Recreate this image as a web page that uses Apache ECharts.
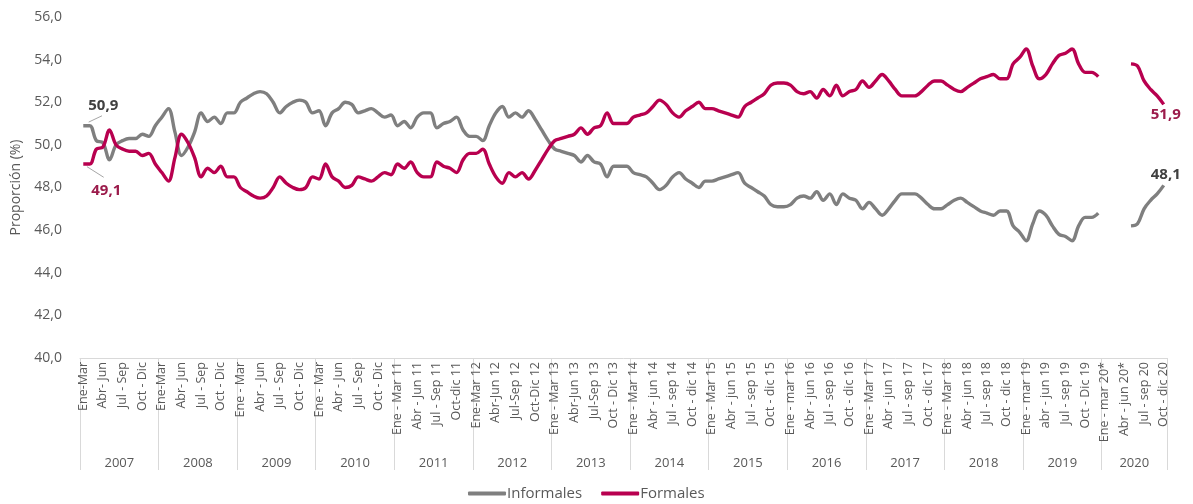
<!DOCTYPE html>
<html><head><meta charset="utf-8">
<script src="https://cdn.jsdelivr.net/npm/echarts@6/dist/echarts.min.js"></script>
<style>html,body{margin:0;padding:0;background:#fff}#chart{width:1193px;height:504px}</style>
</head><body><div id="chart"></div>
<script>
// ---- DATA ----
const years = ['2007','2008','2009','2010','2011','2012','2013','2014','2015','2016','2017','2018','2019','2020'];
const periodsPerYear = [12,12,12,12,12,12,12,12,12,12,12,12,12,10];
const trimestres = ['Ene-Mar','Feb-Abr','Mar-May','Abr-Jun','May-Jul','Jun-Ago','Jul-Sep','Ago-Oct','Sep-Nov','Oct-Dic','Nov-Ene','Dic-Feb'];
const quarterLabels = [
  ['Ene-Mar','Abr- Jun','Jul - Sep','Oct - Dic'],
  ['Ene-Mar','Abr- Jun','Jul - Sep','Oct - Dic'],
  ['Ene - Mar','Abr - Jun','Jul - Sep','Oct - Dic'],
  ['Ene - Mar','Abr - Jun','Jul - Sep','Oct - Dic'],
  ['Ene - Mar 11','Abr - Jun 11','Jul - Sep 11','Oct-dic 11'],
  ['Ene-Mar 12','Abr-Jun 12','Jul-Sep 12','Oct-Dic 12'],
  ['Ene - Mar 13','Abr-Jun 13','Jul-Sep 13','Oct - Dic 13'],
  ['Ene - Mar 14','Abr - jun 14','Jul - sep 14','Oct - dic 14'],
  ['Ene - Mar 15','Abr - jun 15','Jul - sep 15','Oct - dic 15'],
  ['Ene - mar 16','Abr - jun 16','Jul - sep 16','Oct - dic 16'],
  ['Ene - Mar 17','Abr - jun 17','Jul - sep 17','Oct - dic 17'],
  ['Ene - Mar 18','Abr - jun 18','Jul - sep 18','Oct - dic 18'],
  ['Ene - mar 19','abr - jun 19','Jul - sep 19','Oct - Dic 19'],
  ['Ene - mar 20*','Abr - jun 20*','Jul - sep 20','Oct - dic 20']
];
const informales = [
  50.9,50.9,50.2,50.1,49.3,50.0,50.2,50.3,50.3,50.5,50.4,50.9,
  51.3,51.7,50.6,49.5,49.9,50.6,51.5,51.1,51.3,51.0,51.5,51.5,
  52.0,52.2,52.4,52.5,52.4,52.0,51.5,51.8,52.0,52.1,52.0,51.5,
  51.6,50.9,51.5,51.7,52.0,51.9,51.5,51.6,51.7,51.5,51.3,51.4,
  50.9,51.1,50.8,51.3,51.5,51.5,50.8,51.0,51.1,51.3,50.7,50.4,
  50.4,50.2,50.9,51.5,51.8,51.3,51.5,51.3,51.6,51.2,50.7,50.2,
  49.8,49.7,49.6,49.5,49.2,49.5,49.2,49.1,48.5,49.0,49.0,49.0,
  48.7,48.6,48.5,48.2,47.9,48.1,48.5,48.7,48.4,48.2,48.0,48.3,
  48.3,48.4,48.5,48.6,48.7,48.2,48.0,47.8,47.6,47.2,47.1,47.1,
  47.2,47.5,47.6,47.5,47.8,47.4,47.7,47.2,47.7,47.5,47.4,47.0,
  47.3,47.0,46.7,47.0,47.4,47.7,47.7,47.7,47.5,47.2,47.0,47.0,
  47.2,47.4,47.5,47.3,47.1,46.9,46.8,46.7,46.9,46.9,46.2,45.9,
  45.5,46.3,46.9,46.7,46.2,45.8,45.7,45.5,46.2,46.6,46.6,46.8,
  null,null,null,null,46.2,46.3,47.0,47.4,47.7,48.1
];
const formales = [
  49.1,49.1,49.8,49.9,50.7,50.0,49.8,49.7,49.7,49.5,49.6,49.1,
  48.7,48.3,49.4,50.5,50.1,49.4,48.5,48.9,48.7,49.0,48.5,48.5,
  48.0,47.8,47.6,47.5,47.6,48.0,48.5,48.2,48.0,47.9,48.0,48.5,
  48.4,49.1,48.5,48.3,48.0,48.1,48.5,48.4,48.3,48.5,48.7,48.6,
  49.1,48.9,49.2,48.7,48.5,48.5,49.2,49.0,48.9,48.7,49.3,49.6,
  49.6,49.8,49.1,48.5,48.2,48.7,48.5,48.7,48.4,48.8,49.3,49.8,
  50.2,50.3,50.4,50.5,50.8,50.5,50.8,50.9,51.5,51.0,51.0,51.0,
  51.3,51.4,51.5,51.8,52.1,51.9,51.5,51.3,51.6,51.8,52.0,51.7,
  51.7,51.6,51.5,51.4,51.3,51.8,52.0,52.2,52.4,52.8,52.9,52.9,
  52.8,52.5,52.4,52.5,52.2,52.6,52.3,52.8,52.3,52.5,52.6,53.0,
  52.7,53.0,53.3,53.0,52.6,52.3,52.3,52.3,52.5,52.8,53.0,53.0,
  52.8,52.6,52.5,52.7,52.9,53.1,53.2,53.3,53.1,53.1,53.8,54.1,
  54.5,53.7,53.1,53.3,53.8,54.2,54.3,54.5,53.8,53.4,53.4,53.2,
  null,null,null,null,53.8,53.7,53.0,52.6,52.3,51.9
];
const yTicks = {min: 40, max: 56, step: 2};

// ---- BUILD ----
const categories = [], catYear = [], catPos = [];
years.forEach((y, yi) => {
  for (let m = 0; m < periodsPerYear[yi]; m++) {
    categories.push(trimestres[m] + ' ' + y);
    catYear.push(yi); catPos.push(m);
  }
});
const fmt = v => v.toFixed(1).replace('.', ',');
const FONT = 'Open Sans';
const GRAY = '#7f7f7f', RED = '#b8004f';
const lastIdx = arr => { for (let i = arr.length - 1; i >= 0; i--) if (arr[i] != null) return i; return -1; };

function seriesData(arr, color, firstLabel, lastLabel) {
  const li = lastIdx(arr);
  const base = {show: true, formatter: p => fmt(p.value), color: color, fontWeight: 'bold', fontSize: 15, fontFamily: FONT};
  return arr.map((v, i) => {
    if (i === 0) return {value: v, label: Object.assign({}, base, firstLabel)};
    if (i === li) return {value: v, label: Object.assign({}, base, lastLabel)};
    return v;
  });
}

const chart = echarts.init(document.getElementById('chart'), null, {renderer: 'canvas'});
chart.setOption({
  animation: false,
  backgroundColor: '#fff',
  grid: {left: 80, right: 26, top: 17, bottom: 146, containLabel: false},
  legend: {
    left: 468, top: 486, padding: 0, itemWidth: 38, itemHeight: 4, itemGap: 19, icon: 'roundRect',
    textStyle: {color: '#595959', fontSize: 15, fontFamily: FONT, padding: [0, 0, 0, -4]},
    data: ['Informales', 'Formales']
  },
  xAxis: [{
    type: 'category', data: categories, boundaryGap: true,
    axisLine: {show: true, lineStyle: {color: '#d9d9d9', width: 1}},
    axisTick: {show: true, interval: (i) => catPos[i] === 0, length: 112, lineStyle: {color: '#d9d9d9'}},
    axisLabel: {
      interval: (i) => catPos[i] % 3 === 0 && catPos[i] <= 9,
      rotate: 90, margin: 4, color: '#595959', fontSize: 12.5, fontFamily: FONT,
      formatter: (v, i) => quarterLabels[catYear[i]][catPos[i] / 3]
    },
    splitLine: {show: false}
  }, {
    type: 'category', data: categories, boundaryGap: true, position: 'bottom',
    axisLine: {show: false}, axisTick: {show: false},
    axisLabel: {
      interval: (i) => catPos[i] === Math.floor(periodsPerYear[catYear[i]] / 2),
      margin: 99, color: '#595959', fontSize: 13, fontFamily: FONT,
      padding: [0, 6.5, 0, 0],
      formatter: (v, i) => years[catYear[i]]
    }
  }],
  yAxis: {
    type: 'value', min: yTicks.min, max: yTicks.max, interval: yTicks.step,
    name: 'Proporción (%)', nameLocation: 'middle', nameGap: 55, nameRotate: 90,
    nameTextStyle: {color: '#595959', fontSize: 14, fontFamily: FONT},
    axisLine: {show: false}, axisTick: {show: false}, splitLine: {show: false},
    axisLabel: {color: '#595959', fontSize: 14, fontFamily: FONT, margin: 18, formatter: fmt}
  },
  series: [{
    name: 'Informales', type: 'line',
    data: seriesData(informales, '#404040', {position: 'top', offset: [20, -7]}, {position: 'top', distance: 3, offset: [2, 0]}),
    smooth: 0.35, connectNulls: false, showSymbol: true, showAllSymbol: true, symbol: 'circle', symbolSize: 0,
    lineStyle: {color: GRAY, width: 3.4}, itemStyle: {color: GRAY},
    z: 2
  }, {
    name: 'Formales', type: 'line',
    data: seriesData(formales, '#9b1b4b', {position: 'bottom', offset: [23, 14]}, {position: 'bottom', distance: 3, offset: [2, 0]}),
    smooth: 0.35, connectNulls: false, showSymbol: true, showAllSymbol: true, symbol: 'circle', symbolSize: 0,
    lineStyle: {color: RED, width: 3.4}, itemStyle: {color: RED},
    z: 3
  }]
});

// leader lines for the first-point annotations, anchored on the library's own pixel mapping
const p0 = chart.convertToPixel({xAxisIndex: 0, yAxisIndex: 0}, [0, informales[0]]);
const p1 = chart.convertToPixel({xAxisIndex: 0, yAxisIndex: 0}, [0, formales[0]]);
chart.setOption({
  graphic: [
    {type: 'line', shape: {x1: p0[0] + 5.4, y1: p0[1] - 3.6, x2: p0[0] + 18.7, y2: p0[1] - 9.9}, style: {stroke: '#a6a6a6', lineWidth: 1}, z: 10},
    {type: 'line', shape: {x1: p1[0] + 3.7, y1: p1[1] + 2.6, x2: p1[0] + 20.4, y2: p1[1] + 13.2}, style: {stroke: '#a6a6a6', lineWidth: 1}, z: 10}
  ]
});
</script></body></html>
